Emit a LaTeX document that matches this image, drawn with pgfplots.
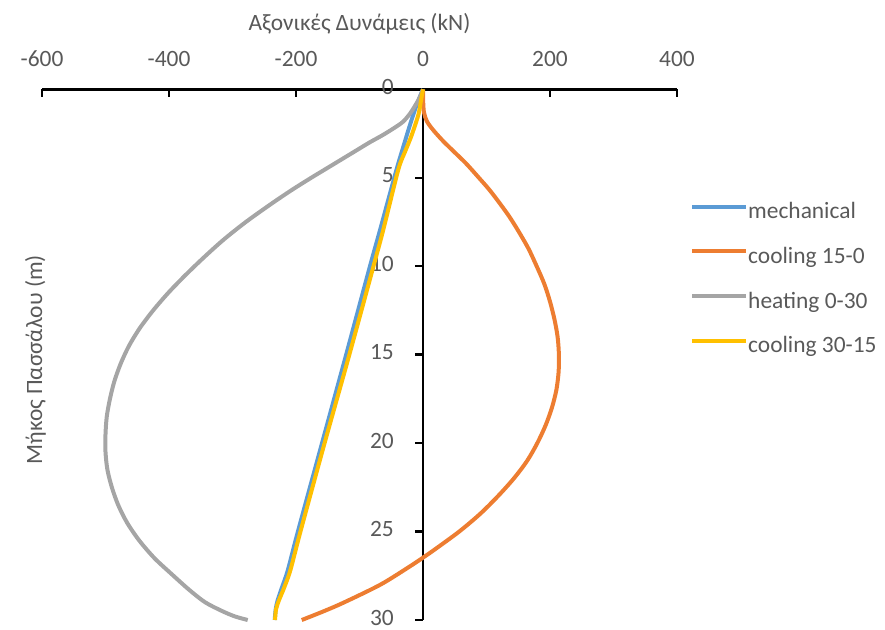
\documentclass[border=0pt]{standalone}
\usepackage{fontspec}
\setmainfont{Carlito}
\usepackage{pgfplots}
\pgfplotsset{compat=1.18}

\definecolor{mechBlue}{HTML}{5B9BD5}
\definecolor{coolOrange}{HTML}{ED7D31}
\definecolor{heatGray}{HTML}{A5A5A5}
\definecolor{coolYellow}{HTML}{FFC000}
\definecolor{labelGray}{HTML}{595959}

\begin{document}
\begin{tikzpicture}[font=\fontsize{23.4bp}{28bp}\selectfont]
\useasboundingbox (0bp,0bp) rectangle (885bp,-630bp);
\begin{axis}[
  at={(359.5bp,-354.65bp)}, anchor=center,
  scale only axis, width=635bp, height=530.7bp,
  xmin=-600, xmax=400, ymin=0, ymax=30,
  y dir=reverse,
  axis x line=middle, axis y line=middle,
  axis line style={-, black, line width=2.7bp},
  every inner x axis line/.append style={-},
  every inner y axis line/.append style={-},
  hide obscured x ticks=false, hide obscured y ticks=false,
  xtick={-600,-400,...,400}, ytick={0,5,...,30},
  xtick align=inside, ytick align=outside,
  major tick length=8bp,
  every tick/.append style={black, line width=2.5bp},
  /pgf/number format/assume math mode=true,
  xticklabel style={anchor=base, inner sep=0pt, yshift=23.3bp, text=labelGray},
  yticklabel style={anchor=base east, inner sep=0pt, xshift=-21bp, yshift=-5bp, text=labelGray},
  xlabel={Αξονικές Δυνάμεις (kN)},
  xlabel style={at={(axis cs:-100,0)}, anchor=base, yshift=58.6bp, text=labelGray},
  ylabel={Μήκος Πασσάλου (m)},
  ylabel style={at={(axis cs:-600,15)}, anchor=base, rotate=90, xshift=-5bp, text=labelGray},
  clip=false,
  legend cell align=left,
  legend image code/.code={\draw[#1] (0bp,6.6bp) -- (54bp,6.6bp);},
  legend style={at={(axis cs:420.5,6.395)}, anchor=north west, draw=none, fill=none,
    inner sep=0pt, row sep=23.7bp, text=labelGray,
    nodes={inner sep=0pt, text height=16bp, text depth=5bp},
    /tikz/every even column/.append style={column sep=8bp}},
]
% mechanical loading
\addplot[color=mechBlue, line width=4bp, smooth, tension=0.5] coordinates {
 (0,0) (-8,0.7) (-15,1.4) (-23,2.3) (-31,3.25) (-39,4.2) (-46,5.1)
 (-68,8) (-83.5,10) (-121,15) (-159,20) (-197,25) (-213,27.2)
 (-222.5,28.2) (-229,28.9) (-232,29.4) (-233.5,30)};
\addlegendentry{mechanical}
% cooling from 15 to 0
\addplot[color=coolOrange, line width=4bp, smooth, tension=0.5] coordinates {
 (0,0) (0.3,0.7) (1.5,1.3) (6,1.8) (16,2.3) (31,2.9) (48,3.5) (68,4.2)
 (88,5.0) (105,5.7) (122,6.5) (136,7.2) (150,8.0) (166,9.0) (179,10.0)
 (191,11.0) (200,12.0) (207,13.0) (212,14.0) (214,15.0) (213.5,16.0)
 (210,17.0) (203,18.0) (193,19.0) (180,20.0) (164,21.0) (143,22.0)
 (118,23.0) (90,24.0) (57,25.0) (19,26.0) (1,26.45) (-22,27.0)
 (-67,28.0) (-124,29.0) (-156,29.5) (-191,30)};
\addlegendentry{cooling 15-0}
% heating from 0 to 30
\addplot[color=heatGray, line width=4bp, smooth, tension=0.5] coordinates {
 (0,0) (-5,0.45) (-12,0.9) (-21,1.4) (-32,1.85) (-46,2.2) (-64,2.6)
 (-84,3.0) (-107,3.5) (-130,4.0) (-153,4.5) (-176,5.0) (-207,5.7)
 (-240,6.5) (-279,7.5) (-314,8.5) (-345,9.5) (-374,10.5) (-401,11.5)
 (-425,12.5) (-446,13.5) (-463,14.5) (-476,15.5) (-486,16.5)
 (-493,17.5) (-498,18.5) (-500,19.5) (-500,20.5) (-497,21.5)
 (-490,22.5) (-480,23.5) (-466,24.5) (-447,25.5) (-423,26.5)
 (-396,27.4) (-368,28.3) (-343,29.0) (-316,29.5) (-296,29.8) (-276,30)};
\addlegendentry{heating 0-30}
% cooling from 30 to 15
\addplot[color=coolYellow, line width=4bp, smooth, tension=0.5] coordinates {
 (0,0) (-3,0.6) (-7,1.4) (-15,2.3) (-20,2.8) (-28,3.5) (-36,4.2)
 (-43,5.1) (-63,8) (-78,10) (-116,15) (-155,20) (-193,25) (-209,27.2)
 (-219,28.2) (-227,28.9) (-231.5,29.4) (-233,30)};
\addlegendentry{cooling 30-15}
\end{axis}
\end{tikzpicture}
\end{document}
